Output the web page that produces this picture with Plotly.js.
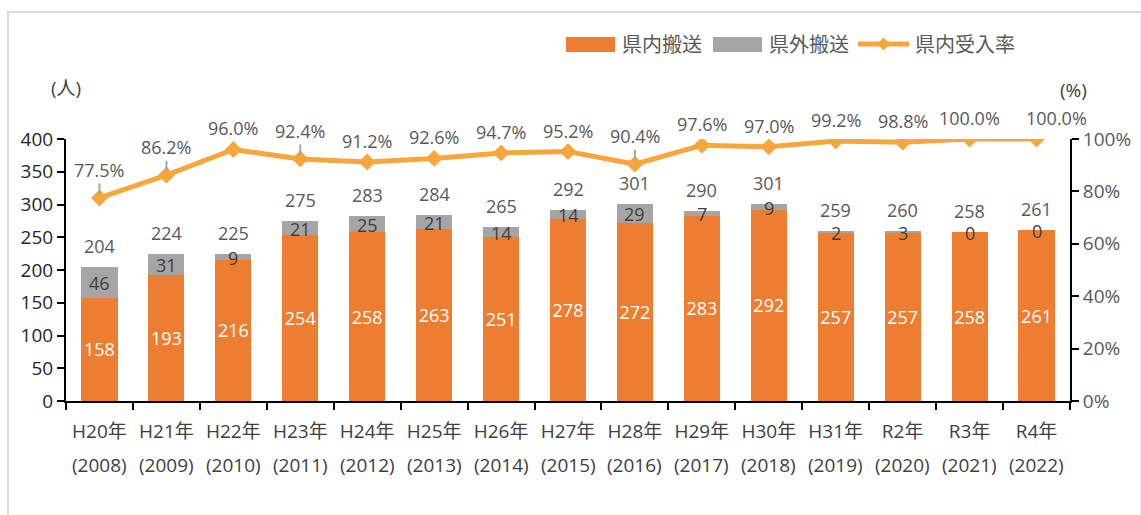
<!DOCTYPE html>
<html>
<head>
<meta charset="utf-8">
<script src="https://cdn.plot.ly/plotly-3.0.1.min.js"></script>
<style>
  html, body { margin: 0; padding: 0; background: #ffffff; }
  #frame { position: absolute; left: 7px; top: 11px; width: 1131px; height: 520px;
           border-left: 2px solid #D9D9D9; border-top: 2px solid #D9D9D9; border-right: 1px solid #EBEBEB; z-index: 0; }
  #chart { position: absolute; left: 0; top: 0; width: 1141px; height: 515px; z-index: 1; }
</style>
</head>
<body>
<div id="frame"></div>
<div id="chart"></div>
<script>
// ---- data ----
const eraLabels = ["H20年","H21年","H22年","H23年","H24年","H25年","H26年","H27年","H28年","H29年","H30年","H31年","R2年","R3年","R4年"];
const yearLabels = ["(2008)","(2009)","(2010)","(2011)","(2012)","(2013)","(2014)","(2015)","(2016)","(2017)","(2018)","(2019)","(2020)","(2021)","(2022)"];
const inPref = [158,193,216,254,258,263,251,278,272,283,292,257,257,258,261];
const outPref = [46,31,9,21,25,21,14,14,29,7,9,2,3,0,0];
const totals = [204,224,225,275,283,284,265,292,301,290,301,259,260,258,261];
const acceptRate = [77.5,86.2,96.0,92.4,91.2,92.6,94.7,95.2,90.4,97.6,97.0,99.2,98.8,100.0,100.0];
const leaderPoints = [0,1,3,8];

// ---- styles ----
const FONT = "'Open Sans', 'Noto Sans CJK JP', sans-serif";
const ORANGE = "#ED7D31", GRAY = "#A5A5A5", LINE = "#F7A63D";
const L = 66, R = 1070, T = 139, B = 401;
const W = 1141, H = 515;
const px = x => (x - L) / (R - L);
const py = y => (B - y) / (B - T);

const traces = [
  { type: "bar", name: "県内搬送", x: eraLabels, y: inPref, marker: { color: ORANGE },
    text: inPref.map(String), textposition: "inside", insidetextanchor: "middle", textangle: 0,
    constraintext: "none", textfont: { color: "#FFFFFF", size: 18, family: FONT }, hoverinfo: "skip" },
  { type: "bar", name: "県外搬送", x: eraLabels, y: outPref, marker: { color: GRAY }, hoverinfo: "skip" },
  { type: "scatter", mode: "lines+markers", name: "県内受入率", x: eraLabels, y: acceptRate, yaxis: "y2",
    line: { color: LINE, width: 5 }, marker: { symbol: "diamond", size: 13, color: LINE }, hoverinfo: "skip" }
];

const annotations = [];
// totals above bars
eraLabels.forEach((c, i) => annotations.push({ x: c, y: totals[i], xref: "x", yref: "y", yshift: 21,
  text: String(totals[i]), showarrow: false, borderpad: 0, font: { family: FONT, size: 18, color: "#595959" } }));
// out-of-prefecture labels in grey segment
eraLabels.forEach((c, i) => annotations.push({ x: c, y: inPref[i] + outPref[i] / 2, xref: "x", yref: "y",
  text: String(outPref[i]), showarrow: false, borderpad: 0, yanchor: "middle", yshift: -1,
  font: { family: FONT, size: 18, color: "#404040" } }));
// rate labels
eraLabels.forEach((c, i) => {
  const lead = leaderPoints.includes(i);
  const a = { x: c, y: acceptRate[i], xref: "x", yref: "y2", text: acceptRate[i].toFixed(1) + "%",
    font: { family: FONT, size: 18, color: "#595959" } };
  if (lead) {
    Object.assign(a, { showarrow: true, ax: 0, ay: -28, arrowhead: 0, arrowwidth: 2, arrowcolor: "#A5A5A5", standoff: 4 });
  } else {
    Object.assign(a, { showarrow: false, yshift: 21 });
  }
  if (i === eraLabels.length - 1) a.xshift = 20;
  annotations.push(a);
});
// second row of category labels
eraLabels.forEach((c, i) => annotations.push({ x: c, y: py(465), xref: "x", yref: "paper",
  text: yearLabels[i], showarrow: false, yanchor: "middle", font: { family: FONT, size: 19, color: "#404040" } }));
// axis unit titles
annotations.push({ x: px(66), y: py(88), xref: "paper", yref: "paper", text: "(人)", showarrow: false,
  xanchor: "center", yanchor: "middle", font: { family: FONT, size: 19, color: "#404040" } });
annotations.push({ x: px(1073), y: py(90), xref: "paper", yref: "paper", text: "(%)", showarrow: false,
  xanchor: "center", yanchor: "middle", font: { family: FONT, size: 19, color: "#404040" } });
// custom legend texts
const legendItems = [
  { text: "県内搬送", x: 620 }, { text: "県外搬送", x: 767 }, { text: "県内受入率", x: 913 }
];
legendItems.forEach(it => annotations.push({ x: px(it.x), y: py(44), xref: "paper", yref: "paper", text: it.text,
  showarrow: false, xanchor: "left", yanchor: "middle", font: { family: FONT, size: 20, color: "#595959" } }));

const shapes = [
  { type: "rect", xref: "paper", yref: "paper", x0: px(566), x1: px(615), y0: py(52), y1: py(37), fillcolor: ORANGE, line: { width: 0 } },
  { type: "rect", xref: "paper", yref: "paper", x0: px(713), x1: px(762), y0: py(52), y1: py(37), fillcolor: GRAY, line: { width: 0 } },
  { type: "line", xref: "paper", yref: "paper", x0: px(858), x1: px(909), y0: py(44), y1: py(44), line: { color: LINE, width: 5 } },
  { type: "path", xref: "paper", yref: "paper",
    path: `M ${px(883.5)} ${py(37.5)} L ${px(890)} ${py(44)} L ${px(883.5)} ${py(50.5)} L ${px(877)} ${py(44)} Z`,
    fillcolor: LINE, line: { width: 0 } }
];

const layout = {
  width: W, height: H,
  margin: { l: L, r: W - R, t: T, b: H - B, pad: 0 },
  paper_bgcolor: "rgba(0,0,0,0)", plot_bgcolor: "rgba(0,0,0,0)",
  barmode: "stack", bargap: 0.46, showlegend: false, hovermode: false,
  font: { family: FONT, size: 19, color: "#404040" },
  xaxis: { type: "category", range: [-0.5, 14.5], showgrid: false, zeroline: false,
    showline: true, linecolor: "#000000", linewidth: 2, ticks: "outside", tickson: "boundaries",
    ticklen: 7, tickwidth: 2, tickcolor: "#000000", ticklabelstandoff: 12,
    tickfont: { family: FONT, size: 19, color: "#404040" } },
  yaxis: { range: [0, 400], dtick: 50, showgrid: false, zeroline: false,
    showline: true, linecolor: "#000000", linewidth: 2, ticks: "outside", ticklen: 7, tickwidth: 2, tickcolor: "#000000",
    tickfont: { family: FONT, size: 19, color: "#262626" } },
  yaxis2: { overlaying: "y", side: "right", range: [0, 100], dtick: 20, ticksuffix: "%", showgrid: false, zeroline: false,
    showline: true, linecolor: "#000000", linewidth: 2, ticks: "outside", ticklen: 7, tickwidth: 2, tickcolor: "#000000",
    tickfont: { family: FONT, size: 19, color: "#595959" } },
  annotations: annotations,
  shapes: shapes
};

Plotly.newPlot("chart", traces, layout, { displayModeBar: false, staticPlot: true });
</script>
</body>
</html>
